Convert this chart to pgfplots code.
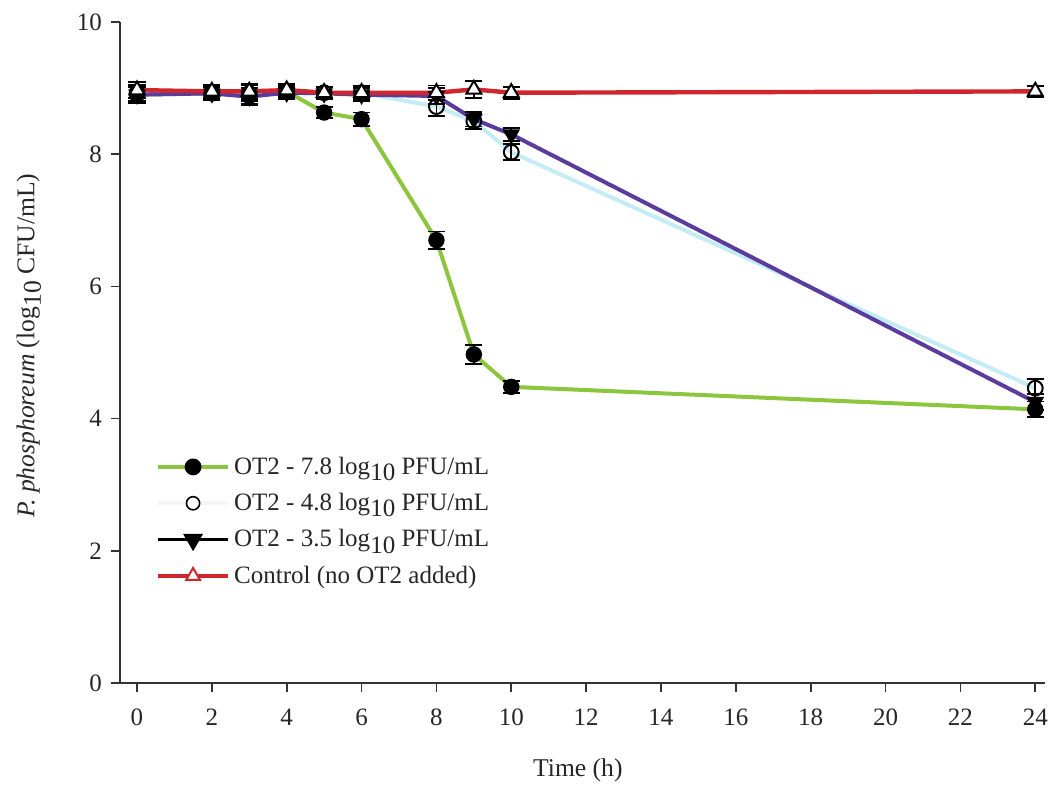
\documentclass[border=0pt]{standalone}
\usepackage{fontspec}
\setmainfont{Liberation Serif}
\usepackage{pgfplots}
\pgfplotsset{compat=1.18}
\usepackage{pgfplotstable}
\definecolor{cgreen}{HTML}{8CC63E}
\definecolor{ccyan}{HTML}{C4ECF5}
\definecolor{cpurple}{HTML}{5A3C9E}
\definecolor{cred}{HTML}{D0262E}
\pgfplotstableread{
x y e
0 8.90 0.12
2 8.92 0.10
3 8.88 0.12
4 8.95 0.09
5 8.63 0.08
6 8.53 0.10
8 6.70 0.13
9 4.97 0.14
10 4.48 0.09
24 4.14 0.12
}\tgreen
\pgfplotstableread{
x y e
0 8.93 0.12
2 8.93 0.10
3 8.92 0.12
4 8.95 0.09
5 8.93 0.09
6 8.93 0.10
8 8.72 0.14
9 8.50 0.12
10 8.03 0.12
24 4.46 0.14
}\tcyan
\pgfplotstableread{
x y e
0 8.90 0.11
2 8.92 0.10
3 8.87 0.12
4 8.93 0.09
5 8.92 0.09
6 8.90 0.10
8 8.88 0.12
9 8.53 0.11
10 8.30 0.10
24 4.25 0.12
}\tpurple
\pgfplotstableread{
x y e
0 8.97 0.12
2 8.95 0.10
3 8.95 0.11
4 8.97 0.09
5 8.93 0.09
6 8.93 0.09
8 8.93 0.11
9 8.98 0.13
10 8.93 0.09
24 8.95 0.08
}\tred
\newcommand{\lten}{log\raisebox{-0.55ex}{10}}
\pgfplotsset{myerr/.style={error bars/.cd, y dir=both, y explicit,
  error bar style={black, line width=0.9pt, solid},
  error mark options={rotate=90, mark size=4.3pt, line width=0.9pt, black}}}
\begin{document}
\begin{tikzpicture}
\path[use as bounding box] (-60pt,-51pt) rectangle (464.5pt,341.5pt);
\begin{axis}[
  scale only axis, width=462.5pt, height=330.5pt,
  xmin=-0.454, xmax=24.26, ymin=0, ymax=10,
  axis x line=bottom, axis y line=left,
  axis line style={-, line width=0.9pt, black!80},
  tick align=outside, major tick length=4.5pt,
  tick style={black!80, line width=0.8pt},
  xtick={0,2,...,24}, ytick={0,2,...,10},
  /pgf/number format/assume math mode=true,
  ticklabel style={font=\fontsize{12.5}{14}\selectfont, text=black!85},
  xticklabel style={yshift=-5pt},
  yticklabel style={xshift=-1pt},
  xlabel={Time (h)},
  ylabel={\textit{P. phosphoreum} (\lten\ CFU/mL)},
  label style={font=\fontsize{12.8}{14}\selectfont, text=black!85},
  xlabel style={at={(axis description cs:0.495,-0.1316)}, anchor=center},
  ylabel style={at={(axis description cs:-0.0985,0.51)}, anchor=center},
  legend style={draw=none, fill=none, at={(0.032,0.355)}, anchor=north west,
    font=\fontsize{12.5}{14}\selectfont, text=black!85,
    row sep=4pt},
  legend cell align=left,
  legend image code/.code={\draw[mark repeat=2,mark phase=2,#1] plot coordinates {(0cm,0cm) (0.62cm,0cm) (1.24cm,0cm)};},
]
\addplot[forget plot, cgreen, line width=2pt, mark=*, mark size=3.7pt, mark options={black, fill=black, line width=0.8pt}, myerr] table[x=x,y=y,y error=e] {\tgreen};
\addplot[forget plot, ccyan, line width=2pt, mark=o, mark size=3.7pt, mark options={black, fill=white, line width=1pt}, myerr] table[x=x,y=y,y error=e] {\tcyan};
\addplot[forget plot, cpurple, line width=2pt, mark=triangle*, mark size=4.3pt, mark options={black, fill=black, rotate=180, line width=0.8pt}, myerr] table[x=x,y=y,y error=e] {\tpurple};
\addplot[forget plot, cred, line width=2.2pt, mark=triangle*, mark size=4.3pt, mark options={black, fill=white, line width=1pt}, myerr] table[x=x,y=y,y error=e] {\tred};
\addlegendimage{cgreen, line width=1.8pt, mark=*, mark size=3.3pt, mark options={black, fill=black}}
\addlegendentry{OT2 - 7.8 \lten\ PFU/mL}
\addlegendimage{black!4, line width=1.8pt, mark=o, mark size=3.3pt, mark options={black, fill=white, line width=0.8pt}}
\addlegendentry{OT2 - 4.8 \lten\ PFU/mL}
\addlegendimage{black, line width=1.8pt, mark=triangle*, mark size=4pt, mark options={black, fill=black, rotate=180}}
\addlegendentry{OT2 - 3.5 \lten\ PFU/mL}
\addlegendimage{cred, line width=1.8pt, mark=triangle*, mark size=4pt, mark options={cred, fill=white, line width=1pt}}
\addlegendentry{Control (no OT2 added)}
\end{axis}
\end{tikzpicture}
\end{document}
